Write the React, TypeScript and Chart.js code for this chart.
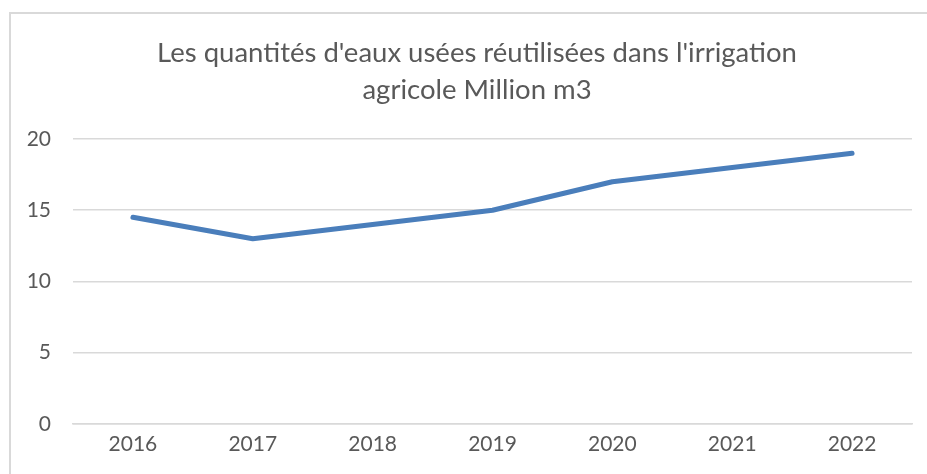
import React, { useEffect, useRef } from "react";
import { Chart, registerables } from "chart.js";

Chart.register(...registerables);

const years = ["2016", "2017", "2018", "2019", "2020", "2021", "2022"];
const quantities = [14.5, 13, 14, 15, 17, 18, 19];
const titleLines = [
  "Les quantités d'eaux usées réutilisées dans l'irrigation",
  "agricole Million m3",
];

const FONT = "Lato, 'Open Sans', 'Liberation Sans', sans-serif";

const titlePlugin = {
  id: "customTitle",
  afterDraw(chart: any) {
    const ctx = chart.ctx;
    ctx.save();
    ctx.font = `27.5px ${FONT}`;
    ctx.fillStyle = "#595959";
    ctx.textAlign = "center";
    ctx.textBaseline = "middle";
    titleLines.forEach((line, i) => {
      ctx.fillText(line, 477, 53 + i * 37);
    });
    ctx.restore();
  },
};

export default function App() {
  const canvasRef = useRef<HTMLCanvasElement | null>(null);

  useEffect(() => {
    if (!canvasRef.current) return;
    const chart = new Chart(canvasRef.current, {
      type: "line",
      data: {
        labels: years,
        datasets: [
          {
            data: quantities,
            borderColor: "#4a7ebb",
            borderWidth: 5,
            pointRadius: 0,
            pointHoverRadius: 0,
            tension: 0,
            borderCapStyle: "round",
            borderJoinStyle: "round",
            fill: false,
          },
        ],
      },
      options: {
        animation: false,
        responsive: false,
        maintainAspectRatio: false,
        layout: { padding: { top: 139, right: 15, bottom: 9, left: 0 } },
        plugins: {
          legend: { display: false },
          title: { display: false },
          tooltip: { enabled: false },
        },
        scales: {
          x: {
            offset: true,
            grid: { display: false, drawTicks: false },
            border: { display: true, color: "#d9d9d9", width: 1.5 },
            ticks: {
              color: "#595959",
              font: { family: FONT, size: 21 },
              padding: 8,
              maxRotation: 0,
            },
          },
          y: {
            min: 0,
            max: 20,
            afterFit(scale: any) {
              scale.width = 73;
            },
            grid: { color: "#d9d9d9", lineWidth: 1.5, drawTicks: false },
            border: { display: false },
            ticks: {
              stepSize: 5,
              color: "#595959",
              font: { family: FONT, size: 21 },
              padding: 22,
            },
          },
        },
      },
      plugins: [titlePlugin],
    });
    return () => chart.destroy();
  }, []);

  return (
    <div
      style={{
        position: "absolute",
        left: 0,
        top: 0,
        width: 927,
        height: 474,
        overflow: "hidden",
        background: "#ffffff",
      }}
    >
      <div
        style={{
          position: "absolute",
          left: 9,
          top: 12,
          width: 1000,
          height: 1000,
          border: "2px solid #d9d9d9",
        }}
      />
      <canvas
        ref={canvasRef}
        width={927}
        height={474}
        style={{ position: "absolute", left: 0, top: 0, width: 927, height: 474 }}
      />
    </div>
  );
}
